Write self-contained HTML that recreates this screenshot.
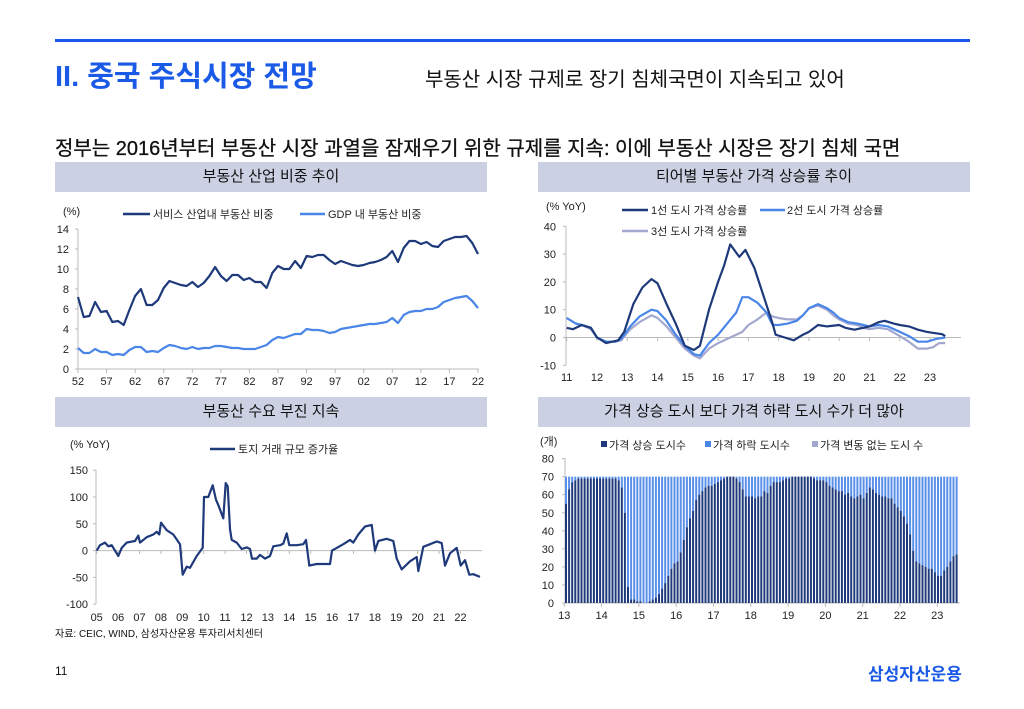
<!DOCTYPE html>
<html><head><meta charset="utf-8"><style>
body{margin:0;background:#fff;width:1024px;height:709px;overflow:hidden;position:relative;font-family:"Liberation Sans","Noto Sans CJK KR",sans-serif;}
.a{position:absolute;white-space:nowrap;}
.hb{position:absolute;background:#cbd0e3;height:30px;line-height:30px;text-align:center;font-size:15px;color:#111;}
svg{position:absolute;left:0;top:0;}
</style></head><body>
<div class="a" style="left:55px;top:39px;width:915px;height:3px;background:#1a56e8"></div>
<div class="a" style="left:55px;top:53px;font-size:29px;font-weight:bold;color:#1a5ae6;">II. 중국 주식시장 전망</div>
<div class="a" style="left:425px;top:63px;font-size:20px;color:#111;">부동산 시장 규제로 장기 침체국면이 지속되고 있어</div>
<div class="a" style="left:55px;top:132px;font-size:20px;color:#111;-webkit-text-stroke:0.3px #111;">정부는 2016년부터 부동산 시장 과열을 잠재우기 위한 규제를 지속: 이에 부동산 시장은 장기 침체 국면</div>
<div class="hb" style="left:55px;top:162px;width:432px">부동산 산업 비중 추이</div>
<div class="hb" style="left:538px;top:162px;width:432px">티어별 부동산 가격 상승률 추이</div>
<div class="hb" style="left:55px;top:397px;width:432px">부동산 수요 부진 지속</div>
<div class="hb" style="left:538px;top:397px;width:432px">가격 상승 도시 보다 가격 하락 도시 수가 더 많아</div>
<div class="a" style="left:55px;top:625px;font-size:10px;color:#111;">자료: CEIC, WIND, 삼성자산운용 투자리서치센터</div>
<div class="a" style="left:55px;top:664px;font-size:12px;color:#111;">11</div>
<div class="a" style="left:868px;top:660px;font-size:17px;font-weight:bold;color:#1a5ae6;">삼성자산운용</div>
<svg id="s" width="1024" height="709" font-family="Liberation Sans, Noto Sans CJK KR, sans-serif" font-size="11" fill="#222"></svg>
<script>
var s=document.getElementById('s'),h='';
function T(x,y,t,a,sz){h+='<text x="'+x+'" y="'+y+'" text-anchor="'+(a||'start')+'"'+(sz?' font-size="'+sz+'"':'')+'>'+t+'</text>';}
function L(x1,y1,x2,y2,c,w){h+='<line x1="'+x1+'" y1="'+y1+'" x2="'+x2+'" y2="'+y2+'" stroke="'+c+'" stroke-width="'+(w||1)+'"/>';}
function P(pts,c,w){h+='<polyline fill="none" stroke="'+c+'" stroke-width="'+w+'" stroke-linejoin="round" points="'+pts.map(function(p){return p[0].toFixed(1)+','+p[1].toFixed(1)}).join(' ')+'"/>';}
var D='#1f3a7a',M='#4a86e8',G='#a3a8cf',AX='#bbb';
var d1=[7.2,5.2,5.3,6.7,5.7,5.8,4.7,4.8,4.4,5.9,7.3,8.0,6.4,6.4,6.9,8.1,8.8,8.6,8.4,8.3,8.7,8.2,8.6,9.3,10.2,9.3,8.8,9.4,9.4,8.9,9.1,8.7,8.7,8.1,9.6,10.3,10.0,10.0,10.8,10.1,11.3,11.2,11.4,11.4,10.9,10.5,10.8,10.6,10.4,10.3,10.4,10.6,10.7,10.9,11.2,11.8,10.7,12.1,12.8,12.8,12.5,12.7,12.3,12.2,12.8,13.0,13.2,13.2,13.3,12.6,11.5];
var g1=[2.1,1.6,1.6,2.0,1.7,1.7,1.4,1.5,1.4,1.9,2.2,2.2,1.7,1.8,1.7,2.1,2.4,2.3,2.1,2.0,2.2,2.0,2.1,2.1,2.3,2.3,2.2,2.1,2.1,2.0,2.0,2.0,2.2,2.4,2.9,3.2,3.1,3.3,3.5,3.5,4.0,3.9,3.9,3.8,3.6,3.7,4.0,4.1,4.2,4.3,4.4,4.5,4.5,4.6,4.7,5.1,4.6,5.4,5.7,5.8,5.8,6.0,6.0,6.2,6.7,6.9,7.1,7.2,7.3,6.8,6.1];
var x0=78,dx=(478-78)/70,y0=369,dy=10;
L(x0,229,x0,369,AX);L(x0,369,479,369,AX);
for(var v=0;v<=14;v+=2){T(69,y0-v*dy+4,v,'end');L(x0-3,y0-v*dy,x0,y0-v*dy,AX);}
var yl=['52','57','62','67','72','77','82','87','92','97','02','07','12','17','22'];
for(var i=0;i<15;i++){var x=x0+i*5*dx;T(x,385,yl[i],'middle');L(x,369,x,373,AX);}
P(d1.map(function(v,i){return[x0+i*dx,y0-v*dy]}),D,2.2);
P(g1.map(function(v,i){return[x0+i*dx,y0-v*dy]}),M,2.2);
T(63,215,'(%)');L(123,214,150,214,D,2.5);T(153,218,'서비스 산업내 부동산 비중');L(300,214,325,214,M,2.5);T(328,218,'GDP 내 부동산 비중');
var X2=function(y){return 566.7+(y-11)*30.28},Y2=function(v){return 337.5-v*2.78};
L(566,226,566,365,AX);L(566,337.5,961,337.5,AX);
for(var v=-10;v<=40;v+=10){T(556,Y2(v)+4,v,'end');L(563,Y2(v),566,Y2(v),AX);}
for(var y=11;y<=23;y++){T(X2(y),381,y,'middle');L(X2(y),337.5,X2(y),341,AX);}
function S(a){var r=[];for(var i=0;i<a.length;i+=2)r.push([X2(a[i]),Y2(a[i+1])]);return r;}
var s1=[11,3.5,11.2,3,11.5,4.5,11.8,3.5,12,0,12.3,-2,12.7,-1,12.9,2,13.2,12,13.5,18,13.8,21,14,19.5,14.3,12,14.6,5,14.9,-3,15.2,-4.5,15.4,-3,15.7,10,16,20,16.2,26,16.4,33.5,16.7,29,16.9,31.5,17.2,25,17.5,15,17.8,5,17.9,1,18.2,0,18.5,-1,18.8,1,19,2,19.3,4.5,19.6,4,20,4.5,20.2,3.5,20.5,2.8,20.8,3.5,21,4,21.3,5.5,21.5,6,21.8,5,22,4.5,22.3,4,22.6,2.8,22.9,2,23.2,1.5,23.4,1.2,23.5,0.5];
var s2=[11,7,11.3,5,11.5,4.5,11.8,3.5,12,0,12.3,-1.5,12.6,-1.5,12.8,-0.5,13.1,4,13.4,7.5,13.8,10,14,9.5,14.3,6,14.6,1,14.9,-3,15.2,-6,15.4,-6.5,15.7,-2,16,1,16.3,5,16.6,9,16.8,14.5,17,14.5,17.3,12.5,17.6,9,17.8,4.5,18,4.5,18.3,5,18.6,6,18.8,8,19,10.5,19.3,12,19.6,10.5,19.8,9,20,7,20.3,5.5,20.6,5,20.8,4.5,21,4,21.3,4.5,21.6,4,22,2,22.3,0.5,22.6,-1.5,22.9,-1.5,23.2,-0.5,23.5,0];
var s3=[11,7,11.3,5,11.5,4.5,11.8,3,12,0,12.3,-1.5,12.6,-1.5,12.8,-1,13.1,3,13.4,5.5,13.8,8,14,7,14.3,4,14.6,0,14.9,-4,15.2,-6.5,15.4,-7.5,15.7,-4,16,-2,16.4,0,16.8,2,17,4.5,17.3,6.5,17.6,9,17.8,7.5,18,7,18.3,6.5,18.6,6.5,18.8,8,19,10.5,19.3,11.5,19.6,10,19.8,8,20,6.5,20.3,5,20.6,4.5,20.8,3.5,21,3,21.3,3.5,21.6,3,22,0.5,22.3,-1.5,22.6,-4,22.9,-4,23.1,-3.5,23.3,-2,23.5,-2];
P(S(s3),G,2.2);P(S(s2),M,2.2);P(S(s1),D,2.2);
T(546,210,'(% YoY)');L(622,210,648,210,D,2.5);T(651,214,'1선  도시 가격 상승률');L(760,210,785,210,M,2.5);T(787,214,'2선  도시 가격 상승률');L(622,231,648,231,G,2.5);T(651,235,'3선  도시 가격 상승률');
var Y3=function(v){return 550.6-v*0.536};
L(96,470,96,604,AX);L(96,550.6,482,550.6,AX);
for(var v=-100;v<=150;v+=50){T(88,Y3(v)+4,v,'end');L(93,Y3(v),96,Y3(v),AX);}
var y3=['05','06','07','08','09','10','11','12','13','14','15','16','17','18','19','20','21','22'];
for(var i=0;i<18;i++){var x=96.7+i*21.4;T(x,621,y3[i],'middle');L(x,550.6,x,554,AX);}
var p3=[140,0,150,10,165,15,175,8,185,10,205,-10,215,5,230,15,255,18,265,28,270,15,290,25,310,30,320,35,328,30,333,52,350,38,370,30,390,12,398,-45,410,-30,420,-32,440,-10,458,5,462,100,475,100,488,122,498,95,505,85,520,60,527,126,533,120,540,40,545,20,560,15,575,3,590,6,600,3,606,-15,620,-15,630,-8,645,-15,660,-10,670,8,690,10,700,13,710,32,718,10,740,10,760,12,768,20,778,-28,800,-25,820,-25,840,-25,846,0,860,5,880,12,900,20,910,15,925,30,945,45,965,48,975,0,985,18,1010,22,1030,18,1040,-15,1055,-35,1080,-20,1100,-12,1105,-38,1120,7,1140,12,1160,17,1175,14,1185,-28,1200,-5,1220,5,1232,-28,1245,-18,1258,-45,1270,-44,1290,-49];
var r3=[];for(var i=0;i<p3.length;i+=2)r3.push([50+p3[i]/3,Y3(p3[i+1])]);P(r3,D,2.2);
T(70,448,'(% YoY)');L(210,449,235,449,D,2.5);T(238,453,'토지 거래 규모 증가율');
var Y4=function(v){return 603-v*1.805};
L(565,458,565,603,AX);L(565,603,960,603,AX);
for(var v=0;v<=80;v+=10){T(554,Y4(v)+4,v,'end');L(562,Y4(v),565,Y4(v),AX);}
for(var y=13;y<=23;y++){var x=564.3+(y-13)*37.3;T(x,619,y,'middle');L(x,603,x,607,AX);}
var p4=[103,53,113,62,123,67,133,68,143,69,260,69,272,65,283,48,290,10,300,2,310,2,320,1,340,0,355,1,370,2,385,5,395,9,405,12,415,16,425,21,435,22,445,25,455,32,465,40,475,46,485,50,495,57,505,60,520,64,540,65,555,66,575,69,600,70,610,70,620,68,630,66,640,60,650,58,660,60,670,58,690,59,700,62,710,61,725,67,740,67,755,68,770,69,795,70,840,70,860,68,880,68,895,65,915,63,930,62,945,60,955,61,965,58,985,60,1000,58,1015,64,1030,62,1045,60,1060,59,1080,58,1095,54,1110,51,1125,46,1135,40,1145,30,1155,23,1170,21,1185,20,1200,19,1210,17,1225,14,1240,18,1255,22,1265,26,1275,27,1285,26];
function itp(zx){for(var i=0;i<p4.length-2;i+=2){if(zx>=p4[i]&&zx<=p4[i+2]){var t=(zx-p4[i])/(p4[i+2]-p4[i]);return p4[i+1]+t*(p4[i+3]-p4[i+1]);}}return 26;}
for(var k=0;k<127;k++){var x=565+k*3.1,zx=(x-530)*3,v=Math.round(itp(zx));
h+='<rect x="'+x.toFixed(1)+'" y="'+Y4(70)+'" width="2" height="'+(Y4(v)-Y4(70)).toFixed(1)+'" fill="#5a90ea"/>';
h+='<rect x="'+x.toFixed(1)+'" y="'+Y4(v).toFixed(1)+'" width="2" height="'+(603-Y4(v)).toFixed(1)+'" fill="'+D+'"/>';}
T(540,445,'(개)');
h+='<rect x="601" y="441" width="6" height="6" fill="'+D+'"/>';T(609,449,'가격 상승 도시수');
h+='<rect x="705" y="441" width="6" height="6" fill="'+M+'"/>';T(713,449,'가격 하락 도시수');
h+='<rect x="812" y="441" width="6" height="6" fill="'+G+'"/>';T(820,449,'가격 변동 없는 도시 수');
s.innerHTML=h;
</script>
</body></html>
